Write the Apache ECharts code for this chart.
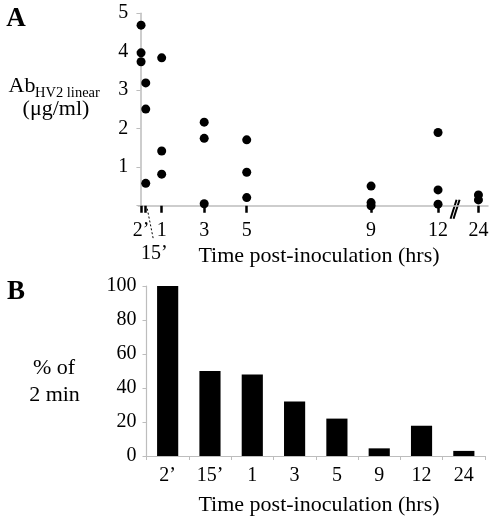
<!DOCTYPE html>
<html><head><meta charset="utf-8">
<script src="https://cdn.jsdelivr.net/npm/echarts@6/dist/echarts.min.js"></script>
<style>html,body{margin:0;padding:0;background:#fff}#c{width:498px;height:521px}</style>
</head><body><div id="c"></div>
<script>
// ---- data ----
const timeLabels = ['2’', '15’', '1', '3', '5', '9', '12', '24'];
// position of each time point on panel A's (broken, non-uniform) time axis
const timeAxisPos = [0.03, 0.25, 1, 3, 5, 10.85, 14.0, 15.9];
const ab2min  = [4.69, 3.97, 3.74];
const ab15min = [3.19, 2.51, 0.58];
const ab1h    = [3.84, 1.42, 0.82];
const ab3h    = [2.17, 1.75, 0.05];
const ab5h    = [1.71, 0.87, 0.21];
const ab9h    = [0.51, 0.08, 0.0];
const ab12h   = [1.90, 0.41, 0.04];
const ab24h   = [0.28, 0.15];
const abGroups = [ab2min, ab15min, ab1h, ab3h, ab5h, ab9h, ab12h, ab24h];
const percentOf2min = [100, 50, 48, 32, 22, 4.5, 17.8, 3];
const abTickLabels = ['1', '2', '3', '4', '5'];
const pctTickLabels = ['0', '20', '40', '60', '80', '100'];
const xTitle = 'Time post-inoculation (hrs)';

const FONT = '"Liberation Serif", "Times New Roman", serif';
const GRAY = '#bdbdbd';
const chart = echarts.init(document.getElementById('c'), null, {renderer: 'canvas'});

const scatterData = [];
abGroups.forEach((g, i) => g.forEach(v => scatterData.push([timeAxisPos[i], v])));

function labelForPos(v) {
  const i = timeAxisPos.findIndex(p => Math.abs(p - v) < 1e-6);
  if (i < 0) return '';
  if (i === 1) return '{s|' + timeLabels[i] + '}';
  return timeLabels[i];
}

const option = {
  animation: false,
  backgroundColor: '#fff',
  textStyle: {fontFamily: FONT},
  grid: [
    {left: 138.3, top: 13.2, width: 349.7, height: 192.5, containLabel: false, outerBoundsMode: 'none'},
    {left: 146.5, top: 286, width: 338.5, height: 170, containLabel: false, outerBoundsMode: 'none'}
  ],
  xAxis: [
    {
      type: 'value', gridIndex: 0, min: -0.1, max: 16.35,
      axisLine: {show: true, lineStyle: {color: GRAY, width: 1.5}},
      axisTick: {show: true, customValues: timeAxisPos, length: 7, lineStyle: {color: '#000', width: 2.5}},
      axisLabel: {
        customValues: timeAxisPos, formatter: labelForPos, margin: 15,
        fontSize: 20, color: '#000', fontFamily: FONT,
        rich: {s: {fontSize: 20, fontFamily: FONT, color: '#000', padding: [23, 0, 0, 17]}}
      },
      splitLine: {show: false}
    },
    {
      type: 'category', gridIndex: 1, data: timeLabels, boundaryGap: true,
      axisLine: {show: true, lineStyle: {color: GRAY, width: 1.2}},
      axisTick: {show: true, alignWithLabel: false, length: 4, lineStyle: {color: GRAY}},
      axisLabel: {margin: 10, fontSize: 20, color: '#000', fontFamily: FONT, interval: 0},
      splitLine: {show: false}
    }
  ],
  yAxis: [
    {
      type: 'value', gridIndex: 0, min: 0, max: 5, interval: 1,
      axisLine: {show: true, lineStyle: {color: GRAY, width: 1.5}},
      axisTick: {show: true, length: 4, lineStyle: {color: GRAY}},
      axisLabel: {
        margin: 10, fontSize: 20, color: '#000', fontFamily: FONT,
        formatter: v => (v === 0 ? '' : abTickLabels[v - 1])
      },
      splitLine: {show: false}
    },
    {
      type: 'value', gridIndex: 1, min: 0, max: 100, interval: 20,
      axisLine: {show: true, lineStyle: {color: GRAY, width: 1.2}},
      axisTick: {show: true, length: 4, lineStyle: {color: GRAY}},
      axisLabel: {
        margin: 10, fontSize: 20, color: '#000', fontFamily: FONT,
        formatter: v => pctTickLabels[v / 20]
      },
      splitLine: {show: false}
    }
  ],
  series: [
    {
      type: 'scatter', xAxisIndex: 0, yAxisIndex: 0, data: scatterData,
      symbol: 'circle', symbolSize: 9, itemStyle: {color: '#000', opacity: 1}, z: 5
    },
    {
      type: 'bar', xAxisIndex: 1, yAxisIndex: 1, data: percentOf2min,
      barWidth: '50%', itemStyle: {color: '#000', opacity: 1}
    }
  ]
};
chart.setOption(option);

// decorations: panel letters, axis titles, 15' leader and axis break mark
const p15 = chart.convertToPixel({xAxisIndex: 0, yAxisIndex: 0}, [timeAxisPos[1], 0]);
const pBreak = chart.convertToPixel({xAxisIndex: 0, yAxisIndex: 0}, [14.8, 0]);
const txt = (x, y, text, size, extra) => Object.assign({
  type: 'text', x: x, y: y,
  style: Object.assign({text: text, font: size + 'px ' + FONT, fill: '#000', align: 'center', verticalAlign: 'middle'}, extra || {})
});
chart.setOption({
  graphic: [
    txt(16, 19, 'A', 26, {font: 'bold 27px ' + FONT}),
    txt(16, 292, 'B', 26, {font: 'bold 27px ' + FONT}),
    txt(8.5, 86, 'Ab', 22, {align: 'left'}),
    txt(35, 93.5, 'HV2 linear', 14.5, {align: 'left'}),
    txt(56, 109, '(μg/ml)', 22),
    txt(319, 256, xTitle, 22),
    txt(54, 368, '% of', 22),
    txt(54.5, 395, '2 min', 22),
    txt(319, 505, xTitle, 22),
    {type: 'line', shape: {x1: p15[0] + 1.5, y1: p15[1] + 3, x2: p15[0] + 7.5, y2: p15[1] + 33},
     style: {stroke: '#000', lineWidth: 1, lineDash: [2, 2]}},
    {type: 'line', shape: {x1: pBreak[0] - 4.5, y1: pBreak[1] + 13, x2: pBreak[0] + 1.5, y2: pBreak[1] - 6},
     style: {stroke: '#000', lineWidth: 2}},
    {type: 'line', shape: {x1: pBreak[0] - 1.5, y1: pBreak[1] + 13, x2: pBreak[0] + 4.5, y2: pBreak[1] - 6},
     style: {stroke: '#000', lineWidth: 2}}
  ]
});
</script>
</body></html>
